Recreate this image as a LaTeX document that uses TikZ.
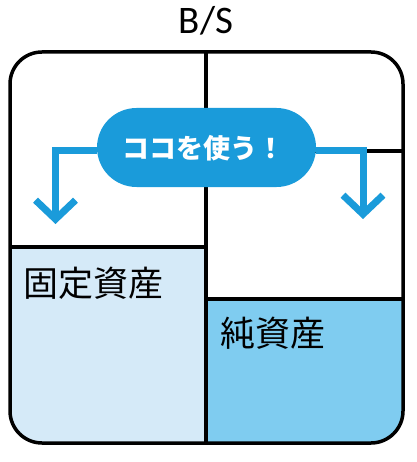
\documentclass[tikz,border=0pt]{standalone}
\usepackage{fontspec}
\setmainfont{Carlito}
\newfontfamily\cjk{Noto Sans CJK JP}
\usetikzlibrary{arrows.meta,shapes.misc}
\definecolor{pillblue}{HTML}{1A9BDA}
\definecolor{lightfill}{HTML}{D5EAF8}
\definecolor{midfill}{HTML}{7FCCF0}
\tikzset{
  frameline/.style={draw=black,line width=3.5pt},
  divline/.style={draw=black,line width=3.5pt},
  bluearrow/.style={draw=pillblue,line width=7pt,-{Straight Barb[length=19pt,width=40pt,line width=7pt]}},
  pillbox/.style={fill=pillblue,rounded rectangle,minimum width=219pt,minimum height=79pt,inner sep=0pt,
    text=white,font=\cjk\bfseries\fontsize{27}{31}\selectfont},
  celltext/.style={anchor=west,inner sep=0pt,font=\cjk\fontsize{35}{40}\selectfont}
}
\begin{document}
\begin{tikzpicture}[x=1pt,y=-1pt]
\useasboundingbox (0,0) rectangle (416,462);
% coordinates
\coordinate (tl) at (10,52);
\coordinate (br) at (403,443);
\coordinate (midtop) at (206,52);
\coordinate (midbot) at (206,443);
\coordinate (ldivL) at (10,247);
\coordinate (ldivR) at (206,247);
\coordinate (rdivL) at (206,299);
\coordinate (rdivR) at (403,299);
\coordinate (tdivL) at (206,151);
\coordinate (tdivR) at (403,151);
% fills
\begin{scope}
\clip[rounded corners=32pt] (tl) rectangle (br);
\fill[lightfill] (10,247) rectangle (206,443);
\fill[midfill] (206,299) rectangle (403,443);
\end{scope}
% inner lines
\draw[divline] (midtop) -- (midbot);
\draw[divline] (ldivL) -- (ldivR);
\draw[divline] (rdivL) -- (rdivR);
\draw[divline] (tdivL) -- (tdivR);
% frame
\draw[frameline,rounded corners=32pt] (tl) rectangle (br);
% title
\node[font=\fontsize{39}{44}\selectfont,inner sep=0pt] (title) at (206,21) {B/S};
% pill
\coordinate (lcorner) at (55.5,151);
\coordinate (ltip) at (55.5,224);
\coordinate (rcorner) at (363,151);
\coordinate (rtip) at (363,219);
\node[pillbox] (pill) at (206.5,147.5) {};
\draw[bluearrow] (pill.west |- lcorner) -- (lcorner) -- (ltip);
\draw[bluearrow] (pill.east |- rcorner) -- (rcorner) -- (rtip);
\node[pillbox,fill=none] (pilltext) at (203,148.5) {ココを使う！};
% cell texts
\node[celltext] (fixed) at (23,283) {固定資産};
\node[celltext] (equity) at (220,333) {純資産};
\end{tikzpicture}
\end{document}
